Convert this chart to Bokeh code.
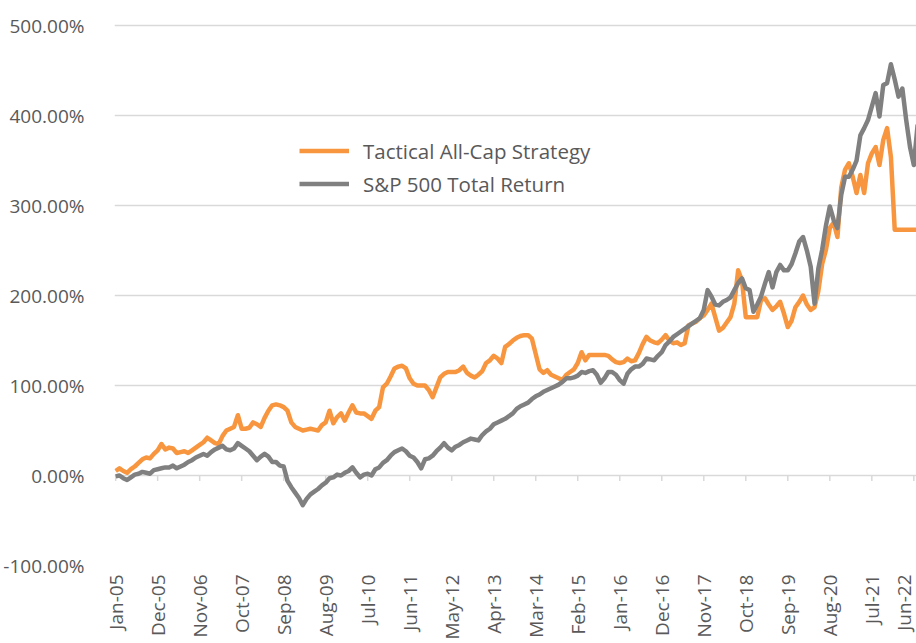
import math
from bokeh.plotting import figure
from bokeh.models import FixedTicker, PrintfTickFormatter, Range1d, Legend, LegendItem, ColumnDataSource
from bokeh.embed import file_html
from bokeh.resources import INLINE

# Monthly cumulative returns (%), Jan-05 onward
tactical = [5, 8, 5, 3, 7, 10, 14, 18, 20, 19, 24, 28, 35, 29, 31, 30, 25, 26, 27, 25,
            28, 31, 34, 37, 42, 39, 36, 35, 44, 50, 52, 54, 67, 52, 52, 53, 59, 57, 54, 64,
            72, 78, 79, 78, 76, 72, 59, 54, 52, 50, 51, 52, 51, 50, 56, 59, 72, 58, 65, 69,
            61, 70, 78, 70, 69, 69, 66, 63, 72, 76, 98, 102, 110, 119, 121, 122, 119, 108, 102, 100,
            100, 100, 95, 87, 98, 109, 113, 115, 115, 115, 117, 121, 114, 111, 109, 112, 116, 125, 128, 133,
            130, 125, 143, 146, 150, 153, 155, 156, 156, 152, 135, 118, 114, 117, 112, 110, 108, 106, 112, 115,
            118, 125, 137, 128, 134, 134, 134, 134, 134, 133, 129, 126, 125, 126, 130, 127, 128, 136, 146, 154,
            150, 148, 147, 151, 156, 150, 147, 148, 145, 147, 167, 169, 171, 175, 178, 184, 191, 176, 161, 164,
            170, 176, 191, 228, 217, 176, 176, 176, 176, 195, 197, 190, 184, 188, 193, 180, 165, 172, 187, 193,
            200, 190, 184, 187, 205, 235, 251, 275, 281, 265, 320, 340, 347, 332, 314, 334, 314, 347, 358, 365,
            345, 373, 386, 354, 273, 273, 273, 273, 273, 273, 273]

sp500 = [-1, 0, -3, -5, -2, 1, 2, 4, 3, 2, 6, 7, 8, 9, 9, 11, 8, 10, 12, 15,
         17, 20, 22, 24, 22, 26, 29, 31, 33, 29, 28, 30, 36, 33, 30, 27, 22, 17, 21, 24,
         21, 15, 15, 11, 10, -6, -13, -19, -25, -33, -26, -21, -18, -15, -11, -8, -3, -2, 1, 0,
         3, 5, 9, 3, -2, 1, 2, 0, 7, 9, 14, 17, 22, 26, 28, 30, 27, 22, 20, 15,
         8, 18, 19, 22, 27, 31, 36, 31, 28, 32, 34, 37, 39, 41, 40, 39, 45, 49, 52, 57,
         59, 61, 63, 66, 69, 74, 77, 79, 81, 85, 88, 90, 93, 95, 97, 99, 101, 104, 108, 108,
         109, 111, 115, 114, 116, 117, 112, 103, 108, 115, 115, 112, 106, 102, 113, 118, 121, 121, 124, 130,
         129, 128, 133, 137, 145, 149, 154, 157, 160, 163, 166, 169, 172, 175, 184, 206, 199, 190, 189, 193,
         195, 198, 206, 214, 219, 208, 206, 182, 190, 199, 213, 226, 209, 226, 234, 228, 228, 235, 247, 260,
         265, 250, 232, 191, 230, 251, 278, 299, 284, 275, 312, 332, 332, 340, 350, 378, 386, 395, 410, 425,
         399, 434, 436, 457, 440, 421, 430, 395, 365, 345, 390]

tick_labels = ["Jan-05", "Dec-05", "Nov-06", "Oct-07", "Sep-08", "Aug-09", "Jul-10",
               "Jun-11", "May-12", "Apr-13", "Mar-14", "Feb-15", "Jan-16", "Dec-16",
               "Nov-17", "Oct-18", "Sep-19", "Aug-20", "Jul-21", "Jun-22"]
tick_step = 11
series_names = ["Tactical All-Cap Strategy", "S&P 500 Total Return"]

FONT = "Open Sans"
LABEL_COLOR = "#595959"
GRID = "#D9D9D9"

months = list(range(len(tactical)))
tick_pos = [k * tick_step for k in range(len(tick_labels))]

p = figure(width=916, height=643, output_backend="svg", toolbar_location=None,
           x_range=Range1d(-0.3, 209.7), y_range=Range1d(-100, 513.4),
           min_border_left=113, min_border_right=0, min_border_top=13, min_border_bottom=78)
p.outline_line_color = None
p.background_fill_color = "white"
p.border_fill_color = "white"

# gridlines
p.xgrid.visible = False
p.ygrid.grid_line_color = GRID
p.ygrid.grid_line_width = 1.5
p.yaxis.ticker = FixedTicker(ticks=[-100, 0, 100, 200, 300, 400, 500])
p.yaxis.formatter = PrintfTickFormatter(format="%.2f%%")
p.yaxis.axis_line_color = None
p.yaxis.major_tick_line_color = None
p.yaxis.minor_tick_line_color = None
p.yaxis.major_label_standoff = 24
p.yaxis.major_label_text_font = FONT
p.yaxis.major_label_text_font_size = "19px"
p.yaxis.major_label_text_color = LABEL_COLOR

p.xaxis.ticker = FixedTicker(ticks=tick_pos)
p.xaxis.major_label_overrides = {t: lab for t, lab in zip(tick_pos, tick_labels)}
p.xaxis.major_label_orientation = math.pi / 2
p.xaxis.axis_line_color = None
p.xaxis.major_tick_line_color = None
p.xaxis.minor_tick_line_color = None
p.xaxis.major_tick_out = 0
p.xaxis.major_tick_in = 0
p.xaxis.major_label_standoff = 9
p.xaxis.major_label_text_font = FONT
p.xaxis.major_label_text_font_size = "19px"
p.xaxis.major_label_text_color = LABEL_COLOR

# tick marks on the zero line
p.segment(x0=tick_pos, x1=tick_pos, y0=[0] * len(tick_pos), y1=[-6] * len(tick_pos),
          line_color=GRID, line_width=1.5)

src = ColumnDataSource(dict(x=months, t=tactical, s=sp500))
r1 = p.line("x", "t", source=src, line_color="#F7963F", line_width=4.5, line_join="round")
r2 = p.line("x", "s", source=src, line_color="#808080", line_width=4.5, line_join="round")

legend = Legend(items=[LegendItem(label=series_names[0], renderers=[r1]),
                       LegendItem(label=series_names[1], renderers=[r2])],
                location=(185, 365), padding=0, margin=0, spacing=0,
                glyph_width=50, glyph_height=33, label_height=33, label_standoff=14,
                label_text_font=FONT, label_text_font_size="20.5px",
                label_text_color=LABEL_COLOR, border_line_color=None,
                background_fill_alpha=0)
p.add_layout(legend, "center")

open("out.html", "w").write(file_html(p, INLINE))
